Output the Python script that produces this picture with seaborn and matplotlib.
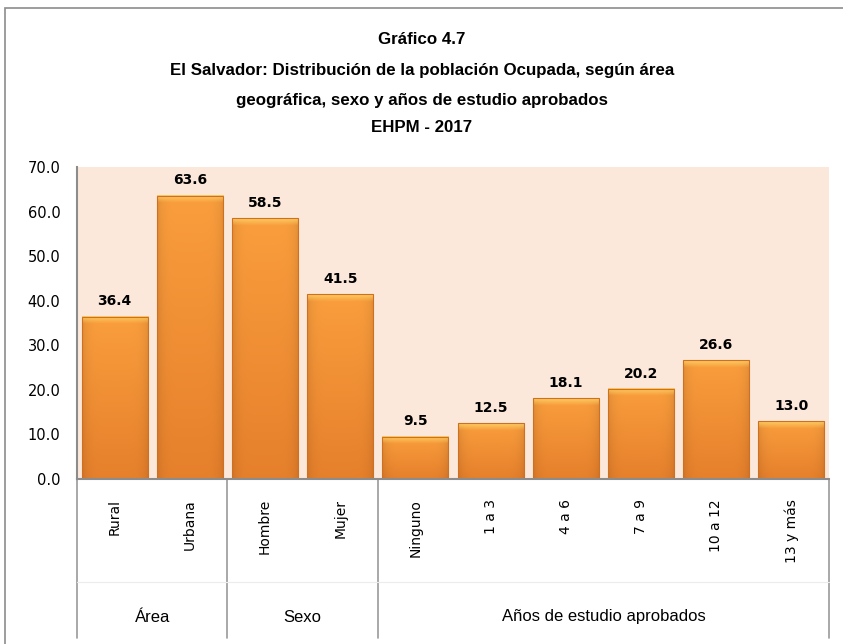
import numpy as np
import pandas as pd
import matplotlib
matplotlib.use("Agg")
import matplotlib.pyplot as plt
import seaborn as sns
from matplotlib.patches import Rectangle
from matplotlib.lines import Line2D

# datos del gráfico
categorias = ["Rural", "Urbana", "Hombre", "Mujer", "Ninguno",
              "1 a 3", "4 a 6", "7 a 9", "10 a 12", "13 y más"]
valores = [36.4, 63.6, 58.5, 41.5, 9.5, 12.5, 18.1, 20.2, 26.6, 13.0]
grupos = ["Área", "Sexo", "Años de estudio aprobados"]
tam_grupos = [2, 2, 6]
titulo = ["Gráfico 4.7",
          "El Salvador: Distribución de la población Ocupada, según área",
          "geográfica, sexo y años de estudio aprobados",
          "EHPM - 2017"]
yticks = [0, 10, 20, 30, 40, 50, 60, 70]

df = pd.DataFrame({"categoria": categorias, "valor": valores})

sns.set_theme(style="white")
plt.rcParams["font.family"] = ["Liberation Sans", "DejaVu Sans"]
plt.rcParams["text.color"] = "black"

W, H = 843, 644
fig = plt.figure(figsize=(W / 100, H / 100), dpi=100)
fig.patch.set_facecolor("white")

# borde exterior (cortado a la derecha y abajo)
fig.add_artist(Rectangle((5 / W, -0.05), 1.1, (H - 8) / H + 0.05, transform=fig.transFigure,
                         fill=False, edgecolor="#8c8c8c", linewidth=1.2))

x0, x1, y0, y1 = 77, 829, 479, 167
ax = fig.add_axes([x0 / W, (H - y0) / H, (x1 - x0) / W, (y0 - y1) / H])
ax.set_facecolor("#FCE8DA")

sns.barplot(data=df, x="categoria", y="valor", color="#F39436", saturation=1,
            width=0.88, ax=ax)

# degradado tipo Excel en cada barra
bot_c = np.array([0.90, 0.50, 0.17])
top_c = np.array([0.98, 0.62, 0.24])
cap_c = np.array([0.99, 0.82, 0.40])
for p in ax.patches:
    bx, bw, bh = p.get_x(), p.get_width(), p.get_height()
    ny = max(int(bh * 8), 40)
    yy = np.linspace(0, bh, ny)[:, None, None]
    xx = np.linspace(0, 1, 90)[None, :, None]
    t = yy / bh
    img = bot_c * (1 - t) + top_c * t
    edge = np.abs(xx * 2 - 1)
    img = img * (1 - 0.10 * edge ** 6)
    cap = np.clip((yy - (bh - 1.6)) / 1.6, 0, 1)
    img = img * (1 - 0.9 * cap) + cap_c * 0.9 * cap
    img = np.broadcast_to(img, (ny, 90, 3))
    ax.imshow(img, extent=(bx, bx + bw, 0, bh), origin="lower", aspect="auto",
              zorder=p.get_zorder() + 0.1, interpolation="bilinear")
    p.set_facecolor("none")
    p.set_edgecolor("#CF6F22")
    p.set_linewidth(0.8)
    p.set_zorder(p.get_zorder() + 0.2)

ax.set_xlim(-0.5, len(categorias) - 0.5)
ax.set_ylim(0, 70)
ax.set_yticks(yticks)
ax.set_yticklabels([f"{v:.1f}" for v in yticks], fontsize=10.5, family=["DejaVu Sans"])
ax.tick_params(axis="y", length=0, pad=12, colors="black")
ax.set_xticks([])
ax.set_xlabel("")
ax.set_ylabel("")

for s in ["top", "right"]:
    ax.spines[s].set_visible(False)
for s in ["left", "bottom"]:
    ax.spines[s].set_color("#8c8c8c")
    ax.spines[s].set_linewidth(1.5)

# etiquetas de valores
for i, v in enumerate(valores):
    ax.annotate(f"{v:.1f}", (i, v), xytext=(0, 6), textcoords="offset points",
                ha="center", va="bottom", fontsize=10, fontweight="bold",
                family=["DejaVu Sans"], color="black")

# eje de categorías en dos niveles
trans = ax.get_xaxis_transform()
px = 1 / (y0 - y1)
for i, c in enumerate(categorias):
    ax.text(i, -20 * px, c, rotation=90, ha="center", va="top", fontsize=10,
            family=["DejaVu Sans"], color="black", transform=trans)

bordes = np.cumsum([0] + tam_grupos) - 0.5
for b in bordes:
    ax.add_artist(Line2D([b, b], [0, -(638 - y0) * px], transform=trans, color="#9a9a9a",
                         linewidth=1.2, clip_on=False))
ax.add_artist(Line2D([-0.5, len(categorias) - 0.5], [-(582 - y0) * px] * 2, transform=trans,
                     color="#ececec", linewidth=0.8, clip_on=False))
for g, a, b in zip(grupos, bordes[:-1], bordes[1:]):
    ax.text((a + b) / 2, -(617 - y0) * px, g, ha="center", va="center", fontsize=12,
            color="black", transform=trans)

# título
for k, linea in enumerate(titulo):
    fig.text(422 / W, 1 - [40, 71, 100, 128][k] / H, linea, ha="center", va="center",
             fontsize=12.2, fontweight="bold", color="black")

fig.savefig("out.png", dpi=100)
